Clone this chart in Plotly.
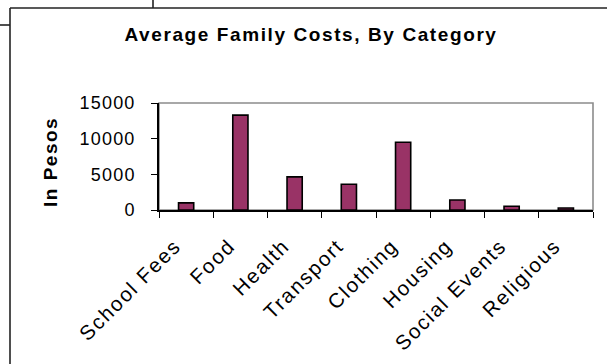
import plotly.graph_objects as go

# Average annual family spending per category, in pesos
categories = ["School Fees", "Food", "Health", "Transport", "Clothing",
              "Housing", "Social Events", "Religious"]
costs = [1000, 13300, 4650, 3600, 9500, 1400, 520, 280]

y_ticks = [0, 5000, 10000, 15000]

W, H = 607, 364
L, R, T, B = 159, 14, 103, 154
PW, PH = W - L - R, H - T - B

FONT = "Liberation Sans, Arial, sans-serif"
BAR = "#993366"


def px_x(x):
    return (x - L) / PW


def px_y(y):
    return (H - B - y) / PH


fig = go.Figure(
    go.Bar(
        x=categories,
        y=costs,
        width=0.28,
        marker=dict(color=BAR, line=dict(color="black", width=1.6)),
        hoverinfo="x+y",
    )
)

frame = dict(color="#222222", width=1.6)
shapes = [
    # plot area outline (grey), axes drawn over it in black
    dict(type="rect", xref="paper", yref="paper", x0=0, x1=1, y0=0, y1=1,
         line=dict(color="#8c8c8c", width=1.6), layer="below"),
    # chart frame
    dict(type="line", xref="paper", yref="paper",
         x0=px_x(10), x1=px_x(10), y0=px_y(8), y1=px_y(H + 2), line=frame),
    dict(type="line", xref="paper", yref="paper",
         x0=px_x(10), x1=px_x(W + 2), y0=px_y(8), y1=px_y(8), line=frame),
    dict(type="line", xref="paper", yref="paper",
         x0=px_x(153), x1=px_x(153), y0=px_y(-2), y1=px_y(8), line=frame),
    dict(type="line", xref="paper", yref="paper",
         x0=px_x(-2), x1=px_x(10), y0=px_y(25), y1=px_y(25), line=frame),
]

fig.update_layout(
    width=W,
    height=H,
    margin=dict(l=L, r=R, t=T, b=B, autoexpand=False),
    paper_bgcolor="white",
    plot_bgcolor="white",
    showlegend=False,
    bargap=0.72,
    font=dict(family=FONT, color="black", size=18),
    title=dict(
        text="<b>Average Family Costs, By Category</b>",
        font=dict(family=FONT, size=19, color="black"),
        xref="container", yref="container",
        x=311 / W, y=1 - 34 / H, xanchor="center", yanchor="middle",
    ),
    xaxis=dict(
        type="category",
        tickangle=-45,
        ticks="outside",
        tickson="boundaries",
        ticklen=6,
        tickwidth=1.3,
        tickcolor="black",
        ticklabelstandoff=14,
        ticklabelshift=-11,
        showline=True,
        linecolor="black",
        linewidth=1.6,
        showgrid=False,
        zeroline=False,
        tickfont=dict(family=FONT, size=20.5, color="black"),
        automargin=False,
    ),
    yaxis=dict(
        range=[0, 15000],
        tickvals=y_ticks,
        ticktext=[str(v) for v in y_ticks],
        ticks="outside",
        ticklen=6,
        tickwidth=1.3,
        tickcolor="black",
        ticklabelstandoff=12,
        showline=True,
        linecolor="black",
        linewidth=1.6,
        showgrid=False,
        zeroline=False,
        tickfont=dict(family=FONT, size=18, color="black"),
        automargin=False,
    ),
    annotations=[
        dict(text="<b>In Pesos</b>", textangle=-90, showarrow=False,
             xref="paper", yref="paper", x=px_x(50), y=px_y(162),
             xanchor="center", yanchor="middle",
             font=dict(family=FONT, size=19, color="black")),
    ],
    shapes=shapes,
)

# Widen the letter spacing of the labels, re-applied after every redraw
spacing_js = """
var gd = document.getElementById('{plot_id}');
function widen() {
  var rules = [['.gtitle', '1.6px'], ['.xtick text', '1.8px'],
               ['.ytick text', '1.2px'], ['.annotation-text', '1.5px']];
  rules.forEach(function (r) {
    gd.querySelectorAll(r[0]).forEach(function (t) {
      t.style.letterSpacing = r[1];
    });
  });
}
widen();
if (gd.on) { gd.on('plotly_afterplot', widen); }
"""

fig.write_html("out.html", post_script=spacing_js)
